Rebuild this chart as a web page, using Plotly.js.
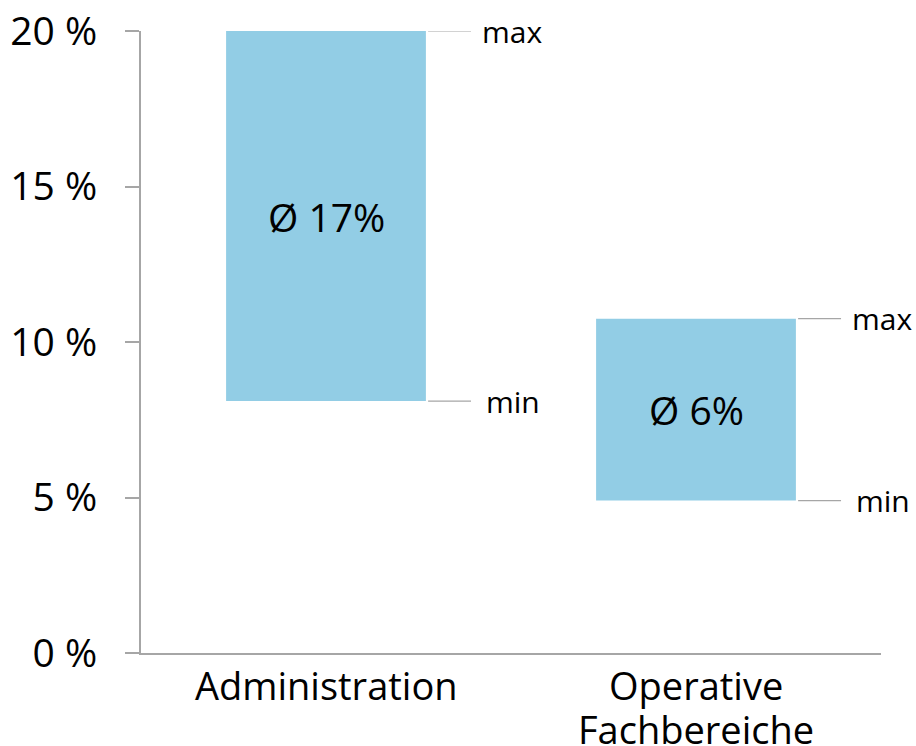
<!DOCTYPE html>
<html>
<head>
<meta charset="utf-8">
<script src="https://cdn.plot.ly/plotly-3.0.1.min.js"></script>
<style>html,body{margin:0;padding:0;background:#fff;}#chart{width:916px;height:746px;}</style>
</head>
<body>
<div id="chart"></div>
<script>
const categories = ['Administration', 'Operative<br>Fachbereiche'];
const minValues = [8.1, 4.9];
const maxValues = [20, 10.75];
const avgLabels = ['Ø 17%', 'Ø 6%'];
const yTickVals = [0, 5, 10, 15, 20];
const yTickText = ['0 %', '5 %', '10 %', '15 %', '20 %'];
const rangeLabels = ['max', 'min'];

const FONT = 'Open Sans, DejaVu Sans, sans-serif';
const AXIS = '#a6a6a6';
const BARW = 0.54;
const BIG = 39;

const trace = {
  type: 'bar',
  x: categories,
  base: minValues,
  y: maxValues.map((v, i) => v - minValues[i]),
  width: BARW,
  marker: {color: '#92cde5', line: {width: 0}},
  hoverinfo: 'skip'
};

const shapes = [];
const annotations = [];
categories.forEach((c, i) => {
  [maxValues[i], minValues[i]].forEach((v, k) => {
    shapes.push({type: 'line', xref: 'x', yref: 'y',
      x0: i + BARW / 2 + 0.006, x1: i + BARW / 2 + 0.122, y0: v, y1: v,
      line: {color: AXIS, width: 1.2}});
    annotations.push({xref: 'x', yref: 'y', x: i + BARW / 2 + 0.145 + (k === 1 ? 0.012 : 0), y: v,
      xanchor: 'left', yanchor: 'middle', showarrow: false, text: rangeLabels[k],
      font: {family: FONT, size: 30, color: '#000'}});
  });
  annotations.push({xref: 'x', yref: 'y', x: i, y: (minValues[i] + maxValues[i]) / 2,
    xanchor: 'center', yanchor: 'middle', showarrow: false, text: avgLabels[i],
    font: {family: FONT, size: BIG, color: '#000'}});
  // category label lines, drawn under the axis with tighter line spacing
  c.split('<br>').forEach((line, j) => {
    annotations.push({xref: 'x', yref: 'paper', x: i, y: 0,
      xanchor: 'center', yanchor: 'top', yshift: -4 - 44 * j, showarrow: false,
      text: line, font: {family: FONT, size: 38, color: '#000'}});
  });
});

const layout = {
  width: 916, height: 746,
  margin: {l: 141, r: 35, t: 31, b: 93, pad: 0},
  paper_bgcolor: '#fff', plot_bgcolor: '#fff',
  showlegend: false,
  font: {family: FONT, color: '#000'},
  xaxis: {
    type: 'category', range: [-0.5, 1.5],
    showline: true, linecolor: AXIS, linewidth: 2,
    ticks: '', showgrid: false, zeroline: false,
    showticklabels: false
  },
  yaxis: {
    range: [0, 20], tickvals: yTickVals, ticktext: yTickText,
    showline: true, linecolor: AXIS, linewidth: 2,
    ticks: 'outside', ticklen: 14, tickwidth: 2, tickcolor: AXIS,
    ticklabelstandoff: 20,
    showgrid: false, zeroline: false,
    tickfont: {family: FONT, size: BIG, color: '#000'}
  },
  shapes: shapes,
  annotations: annotations
};

Plotly.newPlot('chart', [trace], layout, {displayModeBar: false, staticPlot: true});
</script>
</body>
</html>
